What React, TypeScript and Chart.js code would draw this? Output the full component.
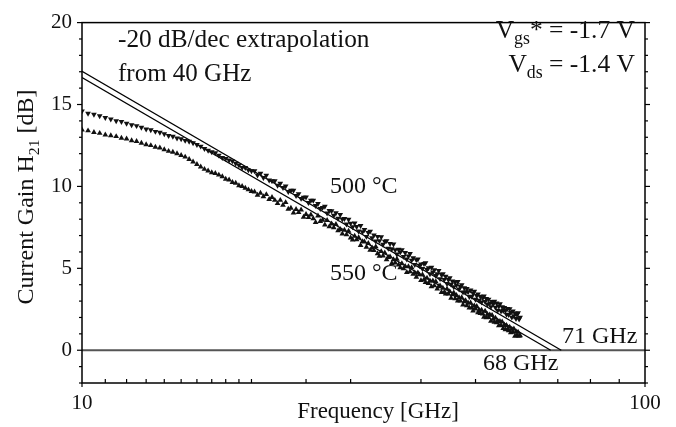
import React, { useEffect, useRef } from "react";
import { Chart, registerables } from "chart.js";

Chart.register(...registerables);

const FONT = '"Liberation Serif", "Times New Roman", serif';

// Frequency points [GHz]
const frequencies = [
  10, 10.25, 10.5, 10.75, 11, 11.25, 11.5, 11.75, 12, 12.25, 12.5, 12.75, 13, 13.25, 13.5, 13.75,
  14, 14.25, 14.5, 14.75, 15, 15.25, 15.5, 15.75, 16, 16.25, 16.5, 16.75, 17, 17.25, 17.5, 17.75,
  18, 18.25, 18.5, 18.75, 19, 19.25, 19.5, 19.75, 20,
  20.25, 20.5, 20.75, 21, 21.25, 21.5, 21.75, 22, 22.25, 22.5, 22.75, 23, 23.25, 23.5, 23.75, 24,
  24.25, 24.5, 24.75, 25, 25.25, 25.5, 25.75, 26, 26.25, 26.5, 26.75, 27, 27.25, 27.5, 27.75, 28,
  28.25, 28.5, 28.75, 29, 29.25, 29.5, 29.75, 30, 30.25, 30.5, 30.75, 31, 31.25, 31.5, 31.75, 32,
  32.25, 32.5, 32.75, 33, 33.25, 33.5, 33.75, 34, 34.25, 34.5, 34.75, 35, 35.25, 35.5, 35.75, 36,
  36.25, 36.5, 36.75, 37, 37.25, 37.5, 37.75, 38, 38.25, 38.5, 38.75, 39, 39.25, 39.5, 39.75, 40,
  40.25, 40.5, 40.75, 41, 41.25, 41.5, 41.75, 42, 42.25, 42.5, 42.75, 43, 43.25, 43.5, 43.75, 44,
  44.25, 44.5, 44.75, 45, 45.25, 45.5, 45.75, 46, 46.25, 46.5, 46.75, 47, 47.25, 47.5, 47.75, 48,
  48.25, 48.5, 48.75, 49, 49.25, 49.5, 49.75, 50, 50.25, 50.5, 50.75, 51, 51.25, 51.5, 51.75, 52,
  52.25, 52.5, 52.75, 53, 53.25, 53.5, 53.75, 54, 54.25, 54.5, 54.75, 55, 55.25, 55.5, 55.75, 56,
  56.25, 56.5, 56.75, 57, 57.25, 57.5, 57.75, 58, 58.25, 58.5, 58.75, 59, 59.25, 59.5, 59.75, 60,
];

// Current gain H21 [dB] at 500 °C (down triangles)
const gain500 = [
  14.6, 14.45, 14.4, 14.3, 14.2, 14.1, 14.0, 13.95, 13.85, 13.75, 13.7, 13.6, 13.5, 13.45, 13.35, 13.3,
  13.2, 13.1, 13.05, 12.95, 12.9, 12.8, 12.75, 12.65, 12.55, 12.45, 12.3, 12.2, 12.1, 12.05, 11.9, 11.75,
  11.7, 11.6, 11.55, 11.4, 11.3, 11.15, 11.15, 11.0, 10.95,
  10.95, 10.69, 10.79, 10.53, 10.68, 10.38, 10.33, 10.33, 10.06, 10.18, 9.92, 10.02, 9.68, 9.75, 9.76, 9.44,
  9.55, 9.26, 9.33, 9.34, 9.01, 9.14, 9.14, 8.83, 8.95, 8.64, 8.71, 8.78, 8.37, 8.52, 8.51, 8.23,
  8.38, 8.05, 8.28, 8.0, 8.03, 7.7, 7.98, 7.75, 7.53, 7.76, 7.54, 7.27, 7.6, 7.23, 7.36, 6.94,
  7.18, 7.26, 6.85, 7.03, 6.66, 6.94, 6.68, 6.92, 6.46, 6.64, 6.68, 6.21, 6.5, 6.19, 6.48, 6.12,
  5.86, 6.15, 5.99, 6.13, 5.72, 5.96, 5.56, 5.75, 5.9, 5.49, 5.63, 5.22, 5.52, 5.56, 5.16, 5.25,
  4.98, 5.28, 5.33, 4.92, 5.02, 4.66, 5.06, 4.76, 4.91, 4.56, 4.66, 4.86, 4.36, 4.61, 4.66, 4.31,
  4.51, 4.06, 4.31, 4.41, 4.02, 4.22, 3.87, 4.17, 3.98, 4.18, 3.73, 3.88, 3.99, 3.54, 3.8, 3.55,
  3.76, 3.56, 3.27, 3.67, 3.28, 3.48, 3.59, 3.1, 3.33, 3.43, 3.04, 3.29, 2.93, 3.19, 3.3, 2.96,
  3.15, 2.8, 3.11, 2.87, 2.65, 2.96, 2.82, 2.98, 2.61, 2.87, 2.43, 2.69, 2.83, 2.39, 2.65, 2.41,
  2.6, 2.41, 2.18, 2.54, 2.17, 2.53, 2.3, 2.01, 2.39, 2.1, 2.27, 1.93, 2.17, 2.28, 1.9, 2.01,
];

// Current gain H21 [dB] at 550 °C (up triangles)
const gain550 = [
  13.45, 13.4, 13.3, 13.25, 13.15, 13.1, 13.05, 12.95, 12.9, 12.8, 12.75, 12.65, 12.55, 12.5, 12.4, 12.35,
  12.25, 12.15, 12.1, 12.0, 11.9, 11.8, 11.65, 11.5, 11.35, 11.2, 11.05, 10.95, 10.85, 10.8, 10.7, 10.6,
  10.45, 10.4, 10.25, 10.2, 10.05, 10.0, 9.9, 9.8, 9.7,
  9.67, 9.47, 9.59, 9.38, 9.51, 9.21, 9.34, 9.16, 8.96, 9.16, 8.86, 9.02, 8.62, 8.68, 8.39, 8.6,
  8.41, 8.57, 8.13, 8.3, 8.11, 8.27, 8.04, 7.81, 8.2, 7.87, 7.94, 7.66, 7.93, 7.55, 7.72, 7.49,
  7.68, 7.31, 7.38, 7.11, 7.33, 7.06, 7.28, 6.86, 6.74, 6.97, 6.75, 6.88, 6.41, 6.64, 6.62, 6.3,
  6.53, 6.12, 6.25, 6.09, 6.32, 5.9, 5.74, 6.03, 5.76, 5.95, 5.53, 5.67, 5.71, 5.3, 5.54, 5.33,
  5.57, 5.21, 5.05, 5.29, 4.98, 5.12, 4.76, 5.11, 4.8, 5.05, 4.64, 4.73, 4.47, 4.72, 4.61, 4.26,
  4.61, 4.31, 4.15, 4.4, 4.09, 4.24, 3.89, 4.24, 3.94, 4.19, 3.74, 3.89, 3.94, 3.54, 3.79, 3.54,
  3.44, 3.74, 3.44, 3.59, 3.19, 3.4, 3.5, 3.15, 3.35, 3.01, 3.21, 3.01, 3.21, 2.77, 2.97, 3.03,
  2.73, 2.89, 2.59, 2.9, 2.6, 2.41, 2.72, 2.53, 2.68, 2.29, 2.44, 2.25, 2.46, 2.22, 2.03, 2.39,
  1.99, 2.2, 2.01, 2.17, 1.78, 2.14, 1.9, 1.71, 1.97, 1.68, 1.79, 1.5, 1.76, 1.52, 1.73, 1.34,
  1.55, 1.26, 1.52, 1.29, 1.2, 1.41, 1.07, 1.29, 1.1, 1.31, 0.87, 1.14, 0.9, 1.11, 0.87, 0.89,
];

// -20 dB/dec extrapolation lines (fT = 71 GHz and 68 GHz)
const fitFreq71 = [10, 71];
const fitGain71 = [17.03, 0];
const fitFreq68 = [10, 68];
const fitGain68 = [16.65, 0];

const xTickLabels = [10, 100];
const yTickLabels = [0, 5, 10, 15, 20];

type Part = { t: string; sub?: boolean };

function drawRich(ctx: CanvasRenderingContext2D, parts: Part[], x: number, y: number, size: number, align: string, subRatio = 0.65) {
  const subSize = size * subRatio;
  const widths = parts.map((p) => {
    ctx.font = `${p.sub ? subSize : size}px ${FONT}`;
    return ctx.measureText(p.t).width;
  });
  const total = widths.reduce((a, b) => a + b, 0);
  let cx = align === "right" ? x - total : align === "center" ? x - total / 2 : x;
  ctx.textAlign = "left";
  ctx.textBaseline = "alphabetic";
  parts.forEach((p, i) => {
    ctx.font = `${p.sub ? subSize : size}px ${FONT}`;
    ctx.fillText(p.t, cx, p.sub ? y + size * 0.24 : y);
    cx += widths[i];
  });
}

function line(ctx: CanvasRenderingContext2D, x1: number, y1: number, x2: number, y2: number) {
  ctx.beginPath();
  ctx.moveTo(x1, y1);
  ctx.lineTo(x2, y2);
  ctx.stroke();
}

const decorPlugin = {
  id: "decor",
  beforeDatasetsDraw(chart: any) {
    const { ctx, chartArea: a, scales } = chart;
    const y0 = scales.y.getPixelForValue(0);
    ctx.save();
    ctx.strokeStyle = "#555";
    ctx.lineWidth = 2;
    line(ctx, a.left, y0, a.right, y0);
    ctx.restore();
  },
  afterDraw(chart: any) {
    const { ctx, chartArea: a, scales } = chart;
    const xs = scales.x;
    const ys = scales.y;
    ctx.save();
    ctx.strokeStyle = "#000";
    ctx.lineWidth = 1.5;
    ctx.strokeRect(a.left, a.top, a.right - a.left, a.bottom - a.top);
    ctx.lineWidth = 1.2;
    ys.ticks.forEach((t: any) => {
      const p = ys.getPixelForValue(t.value);
      const len = t.value % 5 === 0 ? 5 : 3;
      line(ctx, a.left - len, p, a.left, p);
      line(ctx, a.right, p, a.right + len, p);
    });
    xs.ticks.forEach((t: any) => {
      const p = xs.getPixelForValue(t.value);
      if (xTickLabels.includes(t.value)) line(ctx, p, a.bottom, p, a.bottom + 4);
      else line(ctx, p, a.bottom - 4, p, a.bottom);
    });

    ctx.fillStyle = "#111";
    const S = 24;
    drawRich(ctx, [{ t: "-20 dB/dec extrapolation" }], 118, 47, 25.3, "left");
    drawRich(ctx, [{ t: "from 40 GHz" }], 118, 81, 25, "left");
    drawRich(ctx, [{ t: "V" }, { t: "gs", sub: true }, { t: "* = -1.7 V" }], 635, 38, 25.5, "right", 0.7);
    drawRich(ctx, [{ t: "V" }, { t: "ds", sub: true }, { t: " = -1.4 V" }], 635, 72, 25.5, "right", 0.7);
    drawRich(ctx, [{ t: "500 °C" }], 330, 193, S, "left");
    drawRich(ctx, [{ t: "550 °C" }], 330, 280, S, "left");
    drawRich(ctx, [{ t: "71 GHz" }], 562, 343, S, "left");
    drawRich(ctx, [{ t: "68 GHz" }], 483, 370, S, "left");
    drawRich(ctx, [{ t: "Frequency [GHz]" }], 378, 418, 23, "center");

    ctx.save();
    ctx.translate(33, 197);
    ctx.rotate(-Math.PI / 2);
    drawRich(ctx, [{ t: "Current Gain H" }, { t: "21", sub: true }, { t: " [dB]" }], 0, 0, S, "center");
    ctx.restore();
    ctx.restore();
  },
};

export default function App() {
  const ref = useRef<HTMLCanvasElement | null>(null);
  useEffect(() => {
    if (!ref.current) return;
    const pts = (fs: number[], gs: number[]) => fs.map((f, i) => ({ x: f, y: gs[i] }));
    const chart = new Chart(ref.current, {
      type: "scatter",
      data: {
        datasets: [
          {
            label: "500 °C",
            data: pts(frequencies, gain500),
            pointStyle: "triangle",
            rotation: 180,
            pointRadius: 3.3,
            backgroundColor: "#111",
            borderWidth: 0,
            showLine: false,
          },
          {
            label: "550 °C",
            data: pts(frequencies, gain550),
            pointStyle: "triangle",
            rotation: 0,
            pointRadius: 3.3,
            backgroundColor: "#111",
            borderWidth: 0,
            showLine: false,
          },
          {
            label: "fit 71 GHz",
            data: pts(fitFreq71, fitGain71),
            showLine: true,
            pointRadius: 0,
            borderColor: "#000",
            borderWidth: 1.3,
          },
          {
            label: "fit 68 GHz",
            data: pts(fitFreq68, fitGain68),
            showLine: true,
            pointRadius: 0,
            borderColor: "#000",
            borderWidth: 1.3,
          },
        ],
      },
      options: {
        animation: false,
        responsive: true,
        maintainAspectRatio: false,
        layout: { padding: { top: 14, right: 31, left: 0, bottom: 0 } },
        plugins: { legend: { display: false }, tooltip: { enabled: false } },
        scales: {
          x: {
            type: "logarithmic",
            min: 10,
            max: 100,
            grid: { display: false, drawTicks: false },
            border: { display: false },
            ticks: {
              autoSkip: false,
              maxRotation: 0,
              padding: 8,
              color: "#111",
              font: { family: FONT, size: 21 },
              callback: (v: any) => (xTickLabels.includes(Number(v)) ? String(v) : ""),
            },
            afterFit: (s: any) => {
              s.height = 44;
            },
          },
          y: {
            type: "linear",
            min: -2,
            max: 20,
            grid: { display: false, drawTicks: false },
            border: { display: false },
            ticks: {
              stepSize: 1,
              autoSkip: false,
              padding: 10,
              color: "#111",
              font: { family: FONT, size: 21 },
              callback: (v: any) => (yTickLabels.includes(Number(v)) ? String(v) : ""),
            },
            afterFit: (s: any) => {
              s.width = 82;
            },
          },
        },
      },
      plugins: [decorPlugin],
    });
    return () => chart.destroy();
  }, []);
  return (
    <div style={{ position: "absolute", left: 0, top: 0, width: 676, height: 427, background: "#fff" }}>
      <canvas ref={ref} />
    </div>
  );
}
